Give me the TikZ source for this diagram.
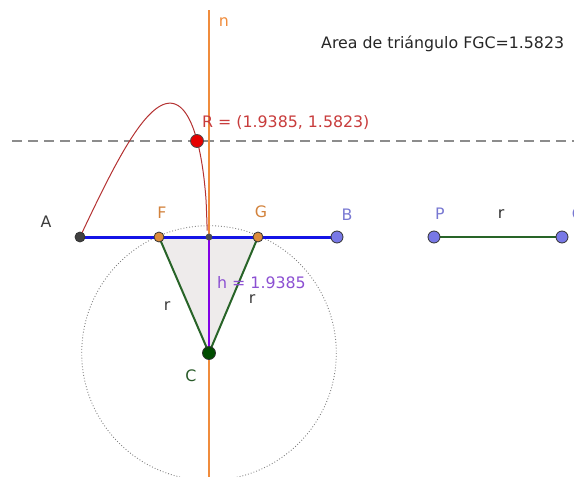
\documentclass[tikz,border=0pt]{standalone}
\usepackage{fontspec}
\setmainfont{DejaVu Sans}
\definecolor{norange}{RGB}{240,140,60}
\definecolor{lblue}{RGB}{20,20,230}
\definecolor{hpurple}{RGB}{130,0,230}
\definecolor{dgreen}{RGB}{40,100,40}
\definecolor{dred}{RGB}{180,50,50}
\definecolor{ptred}{RGB}{230,0,0}
\definecolor{trifill}{RGB}{238,235,235}
\definecolor{lbl}{RGB}{60,60,60}
\definecolor{forange}{RGB}{210,130,60}
\definecolor{bpurple}{RGB}{120,120,210}
\definecolor{hlbl}{RGB}{140,80,210}
\definecolor{rlbl}{RGB}{200,60,60}
\definecolor{clbl}{RGB}{40,90,40}
\definecolor{ptblue}{RGB}{120,120,230}
\definecolor{ptorange}{RGB}{220,140,60}
\begin{document}
\begin{tikzpicture}[x=1pt,y=-1pt,
  txt/.style={font=\fontsize{15.8}{18}\selectfont, inner sep=0pt},
  pt/.style={circle, draw=black!80, line width=0.8pt, inner sep=0pt, minimum size=#1},
]
\useasboundingbox (0,0) rectangle (574,477);
\def\sc{60.5}
\def\rr{2.1033}
% coordinates
\coordinate (Ac) at (80,237);
\coordinate (Fc) at (159,237);
\coordinate (Gc) at (258,237);
\coordinate (Hc) at (209,237);
\coordinate (Cc) at (209,353);
% triangle fill
\fill[trifill] (Fc) -- (Gc) -- (Cc) -- cycle;
% circle
\draw[gray, dotted, line width=0.9pt] (Cc) circle[radius=127.3];
% dashed line
\coordinate (dl) at (12,141);
\coordinate (dr) at (574,141);
\draw[gray!90, dashed, dash pattern=on 10pt off 6pt, line width=1.6pt] (dl) -- (dr);
% curve
\draw[dred, line width=1pt, domain=0:\rr, samples=120, smooth, variable=\t]
  plot ({80+\sc*\t},{237-\sc*\t*sqrt(max(\rr*\rr-\t*\t,0))});
% line n
\coordinate (nt) at (209,10);
\coordinate (nb) at (209,477);
\draw[norange, line width=1.8pt] (nt) -- (nb);
% segment AB
\node[pt=0pt, draw=none] (B) at (337,237) {};
\draw[lblue, line width=3pt] (Ac) -- (B.center);
% triangle sides
\draw[dgreen, line width=2pt] (Fc) -- (Cc);
\draw[dgreen, line width=2pt] (Gc) -- (Cc);
% h
\draw[hpurple, line width=2.5pt] (Hc) -- (Cc);
% PQ
\node[pt=0pt, draw=none] (P) at (434,237) {};
\node[pt=0pt, draw=none] (Q) at (562,237) {};
\draw[dgreen, line width=2.5pt] (P.center) -- (Q.center);
% points
\node[pt=10pt, fill=black!75] (A) at (Ac) {};
\node[pt=10pt, fill=ptorange] (F) at (Fc) {};
\node[pt=10pt, fill=ptorange] (G) at (Gc) {};
\node[pt=6pt, fill=black!70, draw=black!70] (H) at (Hc) {};
\node[pt=12pt, fill=ptblue] at (B) {};
\node[pt=12pt, fill=ptblue] at (P) {};
\node[pt=12pt, fill=ptblue] at (Q) {};
\node[pt=13pt, fill=black!70!green, draw=black!80] (C) at (Cc) {};
\node[pt=13pt, fill=ptred, draw=black!70] (R) at (197,141) {};
% labels
\node[txt, text=lbl] (lA) at (46,222) {A};
\node[txt, text=forange] (lF) at (162,213) {F};
\node[txt, text=forange] (lG) at (261,212) {G};
\node[txt, text=bpurple] (lB) at (347,215) {B};
\node[txt, text=bpurple] (lP) at (440,214) {P};
\node[txt, text=bpurple] (lQ) at (578,215) {Q};
\node[txt, text=black!80] (lr) at (501,214) {r};
\node[txt, text=norange] (ln) at (224,22) {n};
\node[txt, text=rlbl, anchor=west] (lR) at (202,123) {R = (1.9385, 1.5823)};
\node[txt, text=hlbl, anchor=west] (lh) at (217,283) {h = 1.9385};
\node[txt, text=lbl] (lr1) at (167,306) {r};
\node[txt, text=lbl] (lr2) at (252,299) {r};
\node[txt, text=clbl] (lC) at (191,376) {C};
\node[txt, text=black!85, anchor=west] (area) at (321,44) {Area de triángulo FGC=1.5823};
\end{tikzpicture}
\end{document}
